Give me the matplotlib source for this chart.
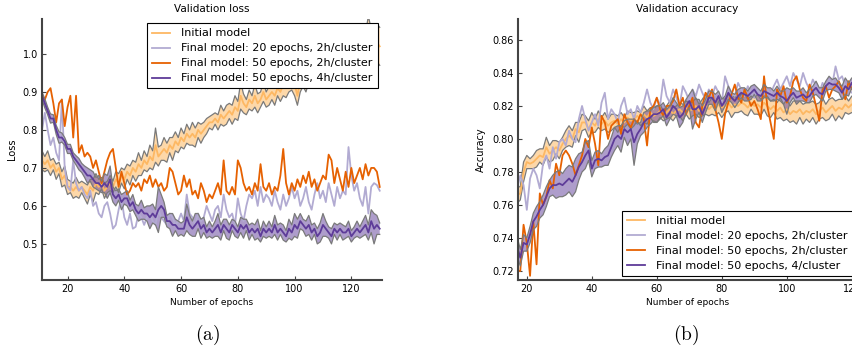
import numpy as np
import matplotlib
matplotlib.use('Agg')
import matplotlib.pyplot as plt

plt.rcParams['mathtext.fontset'] = 'cm'

# colours (PuOr)
c_init = '#fdb863'
c_20 = '#b2abd2'
c_50 = '#e66101'
c_4h = '#5e3c99'
c_edge = '#7a7a7a'

# ---------------- validation loss, epochs 11..130 ----------------
loss_epochs = np.arange(11, 131)

loss_init = [
    0.72, 0.71, 0.72, 0.70, 0.71, 0.69, 0.70, 0.67, 0.68, 0.65,
    0.65, 0.64, 0.65, 0.64, 0.65, 0.64, 0.63, 0.65, 0.64, 0.66,
    0.65, 0.66, 0.64, 0.65, 0.66, 0.65, 0.67, 0.66, 0.68, 0.67,
    0.69, 0.68, 0.70, 0.69, 0.71, 0.70, 0.72, 0.71, 0.73, 0.72,
    0.76, 0.73, 0.74, 0.75, 0.74, 0.76, 0.75, 0.77, 0.76, 0.78,
    0.77, 0.79, 0.78, 0.79, 0.78, 0.80, 0.79, 0.80, 0.81, 0.82,
    0.82, 0.83, 0.82, 0.84, 0.83, 0.84, 0.85, 0.84, 0.86, 0.85,
    0.89, 0.87, 0.86, 0.88, 0.87, 0.89, 0.87, 0.88, 0.90, 0.88,
    0.89, 0.90, 0.89, 0.91, 0.90, 0.92, 0.91, 0.92, 0.93, 0.92,
    0.89, 0.93, 0.94, 0.93, 0.95, 0.94, 0.95, 0.96, 0.95, 0.96,
    0.97, 0.96, 0.97, 0.98, 0.97, 0.99, 0.98, 0.99, 1.00, 0.99,
    1.00, 1.01, 1.00, 1.02, 1.01, 1.03, 1.02, 1.01, 1.03, 1.02]
loss_init_spread = [
    0.025, 0.020, 0.025, 0.020, 0.015, 0.020, 0.015, 0.020, 0.025, 0.020,
    0.015, 0.020, 0.025, 0.020, 0.015, 0.020, 0.025, 0.020, 0.030, 0.025,
    0.020, 0.015, 0.020, 0.015, 0.020, 0.015, 0.020, 0.025, 0.020, 0.025,
    0.020, 0.025, 0.020, 0.025, 0.030, 0.020, 0.025, 0.020, 0.030, 0.025,
    0.045, 0.025, 0.020, 0.030, 0.025, 0.020, 0.030, 0.025, 0.020, 0.025,
    0.020, 0.025, 0.020, 0.030, 0.025, 0.020, 0.025, 0.020, 0.020, 0.015,
    0.020, 0.015, 0.020, 0.025, 0.020, 0.025, 0.020, 0.025, 0.030, 0.025,
    0.035, 0.025, 0.020, 0.025, 0.020, 0.030, 0.025, 0.020, 0.025, 0.020,
    0.025, 0.020, 0.025, 0.020, 0.025, 0.030, 0.025, 0.020, 0.025, 0.030,
    0.025, 0.030, 0.025, 0.030, 0.025, 0.030, 0.025, 0.030, 0.025, 0.030,
    0.025, 0.030, 0.025, 0.030, 0.025, 0.030, 0.025, 0.030, 0.025, 0.030,
    0.030, 0.035, 0.030, 0.040, 0.045, 0.070, 0.045, 0.040, 0.050, 0.050]
loss_20ep = [
    0.80, 0.845, 0.80, 0.76, 0.78, 0.74, 0.72, 0.88, 0.70, 0.65,
    0.64, 0.72, 0.66, 0.64, 0.65, 0.63, 0.62, 0.64, 0.60, 0.61,
    0.58, 0.57, 0.60, 0.61, 0.58, 0.54, 0.55, 0.59, 0.62, 0.57,
    0.55, 0.58, 0.54, 0.545, 0.58, 0.57, 0.55, 0.57, 0.58, 0.56,
    0.55, 0.59, 0.57, 0.56, 0.55, 0.58, 0.57, 0.55, 0.56, 0.58,
    0.56, 0.63, 0.58, 0.57, 0.55, 0.58, 0.56, 0.57, 0.60, 0.58,
    0.56, 0.59, 0.60, 0.57, 0.63, 0.59, 0.57, 0.58, 0.55, 0.62,
    0.58, 0.56, 0.60, 0.63, 0.62, 0.64, 0.60, 0.65, 0.61, 0.63,
    0.62, 0.60, 0.64, 0.61, 0.59, 0.63, 0.60, 0.62, 0.65, 0.62,
    0.64, 0.60, 0.62, 0.65, 0.61, 0.59, 0.63, 0.66, 0.62, 0.64,
    0.61, 0.66, 0.63, 0.60, 0.65, 0.62, 0.64, 0.63, 0.755, 0.68,
    0.64, 0.66, 0.62, 0.60, 0.65, 0.58, 0.65, 0.66, 0.655, 0.64]
loss_50ep = [
    0.89, 0.88, 0.90, 0.91, 0.87, 0.82, 0.87, 0.88, 0.81, 0.86,
    0.89, 0.78, 0.89, 0.74, 0.76, 0.73, 0.74, 0.73, 0.70, 0.72,
    0.69, 0.66, 0.69, 0.72, 0.74, 0.75, 0.70, 0.65, 0.69, 0.66,
    0.63, 0.64, 0.66, 0.65, 0.66, 0.64, 0.67, 0.66, 0.68, 0.65,
    0.67, 0.65, 0.66, 0.64, 0.65, 0.70, 0.69, 0.66, 0.63, 0.64,
    0.68, 0.65, 0.67, 0.63, 0.64, 0.62, 0.66, 0.64, 0.61, 0.63,
    0.62, 0.64, 0.66, 0.63, 0.72, 0.64, 0.63, 0.65, 0.63, 0.72,
    0.70, 0.66, 0.64, 0.65, 0.63, 0.66, 0.64, 0.71, 0.65, 0.64,
    0.66, 0.63, 0.65, 0.64, 0.68, 0.75, 0.66, 0.63, 0.66, 0.64,
    0.67, 0.65, 0.68, 0.66, 0.69, 0.65, 0.67, 0.64, 0.66, 0.68,
    0.67, 0.735, 0.72, 0.66, 0.70, 0.67, 0.64, 0.69, 0.65, 0.70,
    0.66, 0.68, 0.70, 0.67, 0.71, 0.68, 0.70, 0.70, 0.69, 0.65]
loss_4h = [
    0.89, 0.87, 0.85, 0.83, 0.83, 0.80, 0.78, 0.78, 0.77, 0.75,
    0.75, 0.73, 0.72, 0.71, 0.70, 0.69, 0.68, 0.68, 0.67, 0.66,
    0.66, 0.65, 0.66, 0.65, 0.67, 0.63, 0.62, 0.63, 0.61, 0.62,
    0.62, 0.60, 0.61, 0.59, 0.58, 0.59, 0.58, 0.58, 0.57, 0.58,
    0.57, 0.59, 0.60, 0.59, 0.56, 0.56, 0.55, 0.55, 0.54, 0.54,
    0.54, 0.57, 0.55, 0.54, 0.55, 0.56, 0.54, 0.55, 0.53, 0.54,
    0.53, 0.54, 0.55, 0.53, 0.55, 0.54, 0.53, 0.55, 0.54, 0.53,
    0.55, 0.54, 0.55, 0.53, 0.54, 0.53, 0.54, 0.52, 0.54, 0.53,
    0.54, 0.53, 0.55, 0.53, 0.54, 0.53, 0.52, 0.54, 0.53, 0.55,
    0.54, 0.56, 0.55, 0.54, 0.55, 0.53, 0.54, 0.52, 0.53, 0.55,
    0.54, 0.53, 0.52, 0.54, 0.53, 0.54, 0.53, 0.53, 0.54, 0.52,
    0.53, 0.54, 0.53, 0.54, 0.55, 0.53, 0.56, 0.54, 0.55, 0.54]
loss_4h_spread = [
    0.010, 0.012, 0.010, 0.012, 0.010, 0.012, 0.015, 0.012, 0.010, 0.012,
    0.012, 0.010, 0.012, 0.015, 0.012, 0.015, 0.020, 0.015, 0.020, 0.015,
    0.020, 0.015, 0.025, 0.030, 0.035, 0.020, 0.020, 0.015, 0.020, 0.015,
    0.020, 0.015, 0.020, 0.015, 0.020, 0.025, 0.015, 0.020, 0.030, 0.025,
    0.020, 0.060, 0.030, 0.020, 0.015, 0.020, 0.030, 0.015, 0.020, 0.015,
    0.020, 0.035, 0.025, 0.020, 0.030, 0.020, 0.025, 0.020, 0.015, 0.020,
    0.015, 0.020, 0.030, 0.020, 0.015, 0.025, 0.020, 0.015, 0.020, 0.015,
    0.020, 0.025, 0.015, 0.020, 0.015, 0.020, 0.025, 0.015, 0.020, 0.015,
    0.020, 0.015, 0.025, 0.020, 0.015, 0.020, 0.015, 0.025, 0.020, 0.030,
    0.025, 0.020, 0.015, 0.020, 0.025, 0.020, 0.015, 0.020, 0.025, 0.030,
    0.020, 0.015, 0.020, 0.015, 0.020, 0.015, 0.020, 0.015, 0.020, 0.015,
    0.015, 0.020, 0.015, 0.020, 0.025, 0.020, 0.030, 0.040, 0.025, 0.015]

# ---------------- validation accuracy, epochs 17..121 ----------------
acc_epochs = np.arange(17, 122)

acc_init = [
    0.766, 0.767, 0.780, 0.786, 0.785, 0.786, 0.788, 0.790, 0.789, 0.795,
    0.791, 0.793, 0.795, 0.793, 0.797, 0.800, 0.802, 0.800, 0.806, 0.804,
    0.810, 0.810, 0.806, 0.810, 0.808, 0.812, 0.809, 0.811, 0.808, 0.810,
    0.811, 0.809, 0.812, 0.810, 0.813, 0.811, 0.812, 0.814, 0.812, 0.815,
    0.813, 0.816, 0.814, 0.815, 0.817, 0.814, 0.816, 0.818, 0.815, 0.817,
    0.818, 0.816, 0.819, 0.817, 0.818, 0.820, 0.817, 0.819, 0.821, 0.818,
    0.820, 0.818, 0.821, 0.819, 0.820, 0.822, 0.819, 0.821, 0.820, 0.822,
    0.821, 0.819, 0.822, 0.820, 0.821, 0.819, 0.822, 0.820, 0.818, 0.820,
    0.817, 0.819, 0.816, 0.818, 0.815, 0.817, 0.816, 0.818, 0.815, 0.817,
    0.816, 0.818, 0.815, 0.817, 0.819, 0.816, 0.818, 0.820, 0.817, 0.819,
    0.818, 0.821, 0.819, 0.821, 0.820]
acc_init_spread = [
    0.005, 0.004, 0.006, 0.004, 0.003, 0.004, 0.005, 0.004, 0.005, 0.006,
    0.005, 0.006, 0.004, 0.005, 0.004, 0.005, 0.006, 0.005, 0.004, 0.006,
    0.005, 0.004, 0.005, 0.006, 0.004, 0.005, 0.004, 0.005, 0.004, 0.005,
    0.004, 0.005, 0.004, 0.003, 0.004, 0.005, 0.004, 0.003, 0.004, 0.005,
    0.004, 0.003, 0.004, 0.005, 0.004, 0.003, 0.004, 0.005, 0.004, 0.003,
    0.004, 0.005, 0.004, 0.005, 0.004, 0.005, 0.004, 0.005, 0.006, 0.004,
    0.005, 0.004, 0.005, 0.006, 0.004, 0.005, 0.006, 0.005, 0.004, 0.005,
    0.006, 0.005, 0.004, 0.005, 0.006, 0.005, 0.004, 0.006, 0.005, 0.004,
    0.005, 0.006, 0.005, 0.006, 0.005, 0.006, 0.007, 0.005, 0.006, 0.005,
    0.006, 0.005, 0.006, 0.005, 0.006, 0.005, 0.006, 0.005, 0.006, 0.005,
    0.006, 0.005, 0.004, 0.005, 0.004]
acc_20ep = [
    0.770, 0.778, 0.772, 0.757, 0.776, 0.782, 0.778, 0.770, 0.785, 0.790,
    0.782, 0.795, 0.788, 0.798, 0.800, 0.796, 0.805, 0.800, 0.798, 0.812,
    0.820, 0.812, 0.805, 0.810, 0.815, 0.808, 0.822, 0.828, 0.812, 0.818,
    0.815, 0.810, 0.820, 0.825, 0.815, 0.818, 0.812, 0.820, 0.816, 0.822,
    0.830, 0.822, 0.818, 0.825, 0.820, 0.836, 0.826, 0.822, 0.830, 0.825,
    0.820, 0.832, 0.828, 0.823, 0.830, 0.826, 0.833, 0.828, 0.824, 0.830,
    0.826, 0.832, 0.828, 0.822, 0.838, 0.832, 0.828, 0.826, 0.834, 0.830,
    0.826, 0.832, 0.828, 0.825, 0.830, 0.826, 0.834, 0.830, 0.827, 0.832,
    0.836, 0.830, 0.834, 0.838, 0.832, 0.840, 0.836, 0.832, 0.840, 0.834,
    0.830, 0.836, 0.832, 0.828, 0.834, 0.830, 0.836, 0.833, 0.844, 0.836,
    0.838, 0.832, 0.830, 0.828, 0.828]
acc_50ep = [
    0.720, 0.720, 0.748, 0.737, 0.717, 0.750, 0.724, 0.767, 0.760, 0.765,
    0.775, 0.770, 0.785, 0.778, 0.790, 0.793, 0.790, 0.785, 0.778, 0.784,
    0.790, 0.800, 0.795, 0.807, 0.797, 0.784, 0.814, 0.810, 0.800, 0.808,
    0.810, 0.812, 0.803, 0.815, 0.810, 0.807, 0.812, 0.810, 0.815, 0.812,
    0.796, 0.818, 0.820, 0.825, 0.818, 0.814, 0.820, 0.820, 0.823, 0.830,
    0.820, 0.825, 0.815, 0.820, 0.825, 0.810, 0.807, 0.820, 0.828, 0.825,
    0.830, 0.818, 0.810, 0.800, 0.815, 0.822, 0.827, 0.833, 0.825, 0.822,
    0.830, 0.825, 0.820, 0.823, 0.818, 0.812, 0.838, 0.820, 0.810, 0.800,
    0.830, 0.826, 0.832, 0.822, 0.826, 0.835, 0.838, 0.830, 0.825, 0.823,
    0.833, 0.828, 0.820, 0.811, 0.830, 0.832, 0.825, 0.830, 0.832, 0.835,
    0.830, 0.824, 0.835, 0.830, 0.834]
acc_4h = [
    0.735, 0.728, 0.737, 0.736, 0.742, 0.750, 0.753, 0.757, 0.760, 0.765,
    0.770, 0.772, 0.772, 0.773, 0.772, 0.774, 0.776, 0.774, 0.778, 0.783,
    0.786, 0.790, 0.793, 0.782, 0.787, 0.788, 0.787, 0.789, 0.790, 0.795,
    0.800, 0.802, 0.800, 0.806, 0.804, 0.806, 0.798, 0.803, 0.806, 0.810,
    0.812, 0.813, 0.815, 0.815, 0.816, 0.818, 0.813, 0.816, 0.820, 0.818,
    0.813, 0.815, 0.820, 0.823, 0.818, 0.818, 0.820, 0.815, 0.820, 0.825,
    0.825, 0.822, 0.826, 0.820, 0.823, 0.828, 0.825, 0.823, 0.826, 0.828,
    0.827, 0.826, 0.828, 0.830, 0.827, 0.826, 0.829, 0.828, 0.827, 0.826,
    0.828, 0.826, 0.825, 0.823, 0.826, 0.828, 0.825, 0.826, 0.827, 0.825,
    0.826, 0.829, 0.831, 0.828, 0.827, 0.832, 0.834, 0.833, 0.833, 0.831,
    0.828, 0.832, 0.830, 0.834, 0.833]
acc_4h_spread = [
    0.006, 0.005, 0.005, 0.004, 0.005, 0.005, 0.006, 0.005, 0.006, 0.006,
    0.005, 0.006, 0.008, 0.008, 0.007, 0.008, 0.008, 0.009, 0.010, 0.008,
    0.006, 0.008, 0.006, 0.005, 0.005, 0.005, 0.004, 0.005, 0.006, 0.006,
    0.007, 0.006, 0.008, 0.005, 0.008, 0.006, 0.014, 0.006, 0.004, 0.006,
    0.005, 0.004, 0.004, 0.005, 0.004, 0.004, 0.005, 0.004, 0.005, 0.004,
    0.006, 0.005, 0.004, 0.004, 0.012, 0.006, 0.004, 0.005, 0.004, 0.004,
    0.004, 0.005, 0.003, 0.004, 0.003, 0.004, 0.003, 0.004, 0.004, 0.003,
    0.004, 0.003, 0.004, 0.003, 0.004, 0.003, 0.004, 0.003, 0.004, 0.003,
    0.004, 0.003, 0.004, 0.008, 0.004, 0.003, 0.004, 0.003, 0.004, 0.003,
    0.004, 0.003, 0.004, 0.003, 0.004, 0.003, 0.004, 0.003, 0.004, 0.003,
    0.004, 0.005, 0.004, 0.003, 0.004]


def band(ax, x, mean, spread, fill, alpha):
    mean = np.asarray(mean)
    spread = np.asarray(spread)
    lo, hi = mean - spread, mean + spread
    ax.fill_between(x, lo, hi, facecolor=fill, alpha=alpha, linewidth=0)
    ax.plot(x, lo, color=c_edge, lw=0.9)
    ax.plot(x, hi, color=c_edge, lw=0.9)


def style(ax):
    for s in ['top', 'right']:
        ax.spines[s].set_visible(False)
    for s in ['left', 'bottom']:
        ax.spines[s].set_linewidth(1.5)
        ax.spines[s].set_color('#444444')
    ax.tick_params(direction='in', length=3, width=0.8, color='#444444',
                   labelsize=7, pad=3)


fig = plt.figure(figsize=(8.53, 3.54), dpi=100)
W, H = 853.0, 354.0

# (a) loss
ax1 = fig.add_axes([42 / W, 74 / H, 340 / W, 261 / H])
band(ax1, loss_epochs, loss_init, loss_init_spread, c_init, 0.55)
l1, = ax1.plot(loss_epochs, loss_init, color=c_init, lw=1.3)
l2, = ax1.plot(loss_epochs, loss_20ep, color=c_20, lw=1.3)
l3, = ax1.plot(loss_epochs, loss_50ep, color=c_50, lw=1.3)
band(ax1, loss_epochs, loss_4h, loss_4h_spread, c_4h, 0.5)
l4, = ax1.plot(loss_epochs, loss_4h, color=c_4h, lw=1.3)
ax1.set_xlim(11, 130.8)
ax1.set_ylim(0.405, 1.092)
ax1.set_xticks([20, 40, 60, 80, 100, 120])
ax1.set_yticks([0.5, 0.6, 0.7, 0.8, 0.9, 1.0])
ax1.set_title('Validation loss', fontsize=7.5, pad=5)
ax1.set_xlabel('Number of epochs', fontsize=6.5, labelpad=3)
ax1.set_ylabel('Loss', fontsize=7, labelpad=4)
style(ax1)
leg = ax1.legend([l1, l2, l3, l4],
                 ['Initial model', 'Final model: 20 epochs, 2h/cluster',
                  'Final model: 50 epochs, 2h/cluster',
                  'Final model: 50 epochs, 4h/cluster'],
                 loc='upper right', fontsize=8, fancybox=False, framealpha=1,
                 edgecolor='black', handlelength=1.6, handletextpad=1.0,
                 labelspacing=0.45, borderaxespad=0.4, borderpad=0.45)
leg.get_frame().set_linewidth(0.8)

# (b) accuracy
ax2 = fig.add_axes([517.7 / W, 74 / H, 339.3 / W, 261 / H])
band(ax2, acc_epochs, acc_init, acc_init_spread, c_init, 0.55)
m1, = ax2.plot(acc_epochs, acc_init, color=c_init, lw=1.3)
m2, = ax2.plot(acc_epochs, acc_20ep, color=c_20, lw=1.3)
m3, = ax2.plot(acc_epochs, acc_50ep, color=c_50, lw=1.3)
band(ax2, acc_epochs, acc_4h, acc_4h_spread, c_4h, 0.5)
m4, = ax2.plot(acc_epochs, acc_4h, color=c_4h, lw=1.3)
ax2.set_xlim(17.2, 121.6)
ax2.set_ylim(0.7145, 0.8727)
ax2.set_xticks([20, 40, 60, 80, 100, 120])
ax2.set_yticks([0.72, 0.74, 0.76, 0.78, 0.80, 0.82, 0.84, 0.86])
ax2.set_title('Validation accuracy', fontsize=7.5, pad=5)
ax2.set_xlabel('Number of epochs', fontsize=6.5, labelpad=3)
ax2.set_ylabel('Accuracy', fontsize=7, labelpad=4)
style(ax2)
leg2 = ax2.legend([m1, m2, m3, m4],
                  ['Initial model', 'Final model: 20 epochs, 2h/cluster',
                   'Final model: 50 epochs, 2h/cluster',
                   'Final model: 50 epochs, 4/cluster'],
                  loc='lower right', fontsize=8, fancybox=False, framealpha=1,
                  edgecolor='black', handlelength=1.6, handletextpad=1.0,
                  labelspacing=0.45, borderaxespad=0.4, borderpad=0.45)
leg2.get_frame().set_linewidth(0.8)

fig.text(208 / W, 1 - 335 / H, r'$\mathrm{(a)}$', fontsize=14, ha='center', va='center')
fig.text(686 / W, 1 - 335 / H, r'$\mathrm{(b)}$', fontsize=14, ha='center', va='center')

fig.savefig('out.png', dpi=100)
